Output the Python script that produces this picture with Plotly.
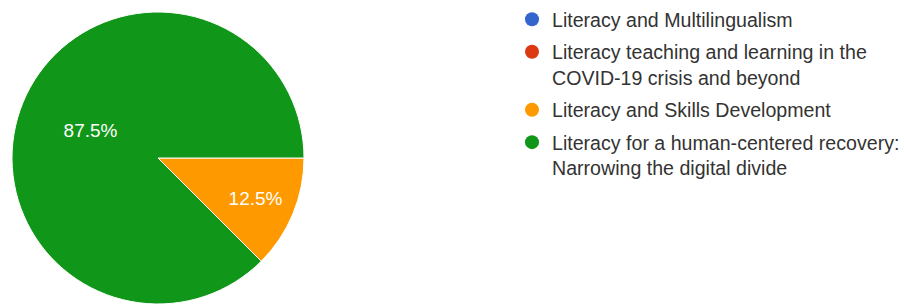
import plotly.graph_objects as go

categories = [
    "Literacy and Multilingualism",
    "Literacy teaching and learning in the<br>COVID-19 crisis and beyond",
    "Literacy and Skills Development",
    "Literacy for a human-centered recovery:\u00a0<br>Narrowing the digital divide",
]
values = [0, 0, 1, 7]
colors = ["#3366cc", "#dc3912", "#ff9900", "#109618"]

FONT = "Arial, Liberation Sans, sans-serif"
W, H = 912, 307

fig = go.Figure()
fig.add_trace(go.Pie(
    labels=categories,
    values=values,
    sort=False,
    direction="clockwise",
    rotation=90,
    marker=dict(colors=colors, line=dict(color="white", width=1)),
    textinfo="percent",
    texttemplate="%{percent:.1%}",
    textposition="inside",
    insidetextorientation="horizontal",
    textfont=dict(family=FONT, size=19, color="white"),
    showlegend=False,
    domain=dict(x=[12 / W, 304 / W], y=[(H - 304) / H, (H - 12) / H]),
    hoverinfo="label+percent",
))

for i, (name, col) in enumerate(zip(categories, colors)):
    fig.add_trace(go.Scatter(
        x=[None], y=[None], mode="markers", name=name,
        marker=dict(color=col, size=14, symbol="circle"),
        legendgroup=f"g{i}",
        showlegend=True,
    ))

fig.update_layout(
    width=W, height=H,
    margin=dict(l=0, r=0, t=0, b=0),
    paper_bgcolor="white",
    plot_bgcolor="white",
    xaxis=dict(visible=False),
    yaxis=dict(visible=False),
    legend=dict(
        x=512 / W, y=1, xanchor="left", yanchor="top",
        font=dict(family=FONT, size=19.6, color="#333333"),
        bgcolor="rgba(0,0,0,0)",
        valign="top",
        tracegroupgap=4,
        itemclick=False, itemdoubleclick=False,
    ),
)

fig.write_html("out.html", config={"displayModeBar": False},
               post_script="document.body.style.margin='0px';")
